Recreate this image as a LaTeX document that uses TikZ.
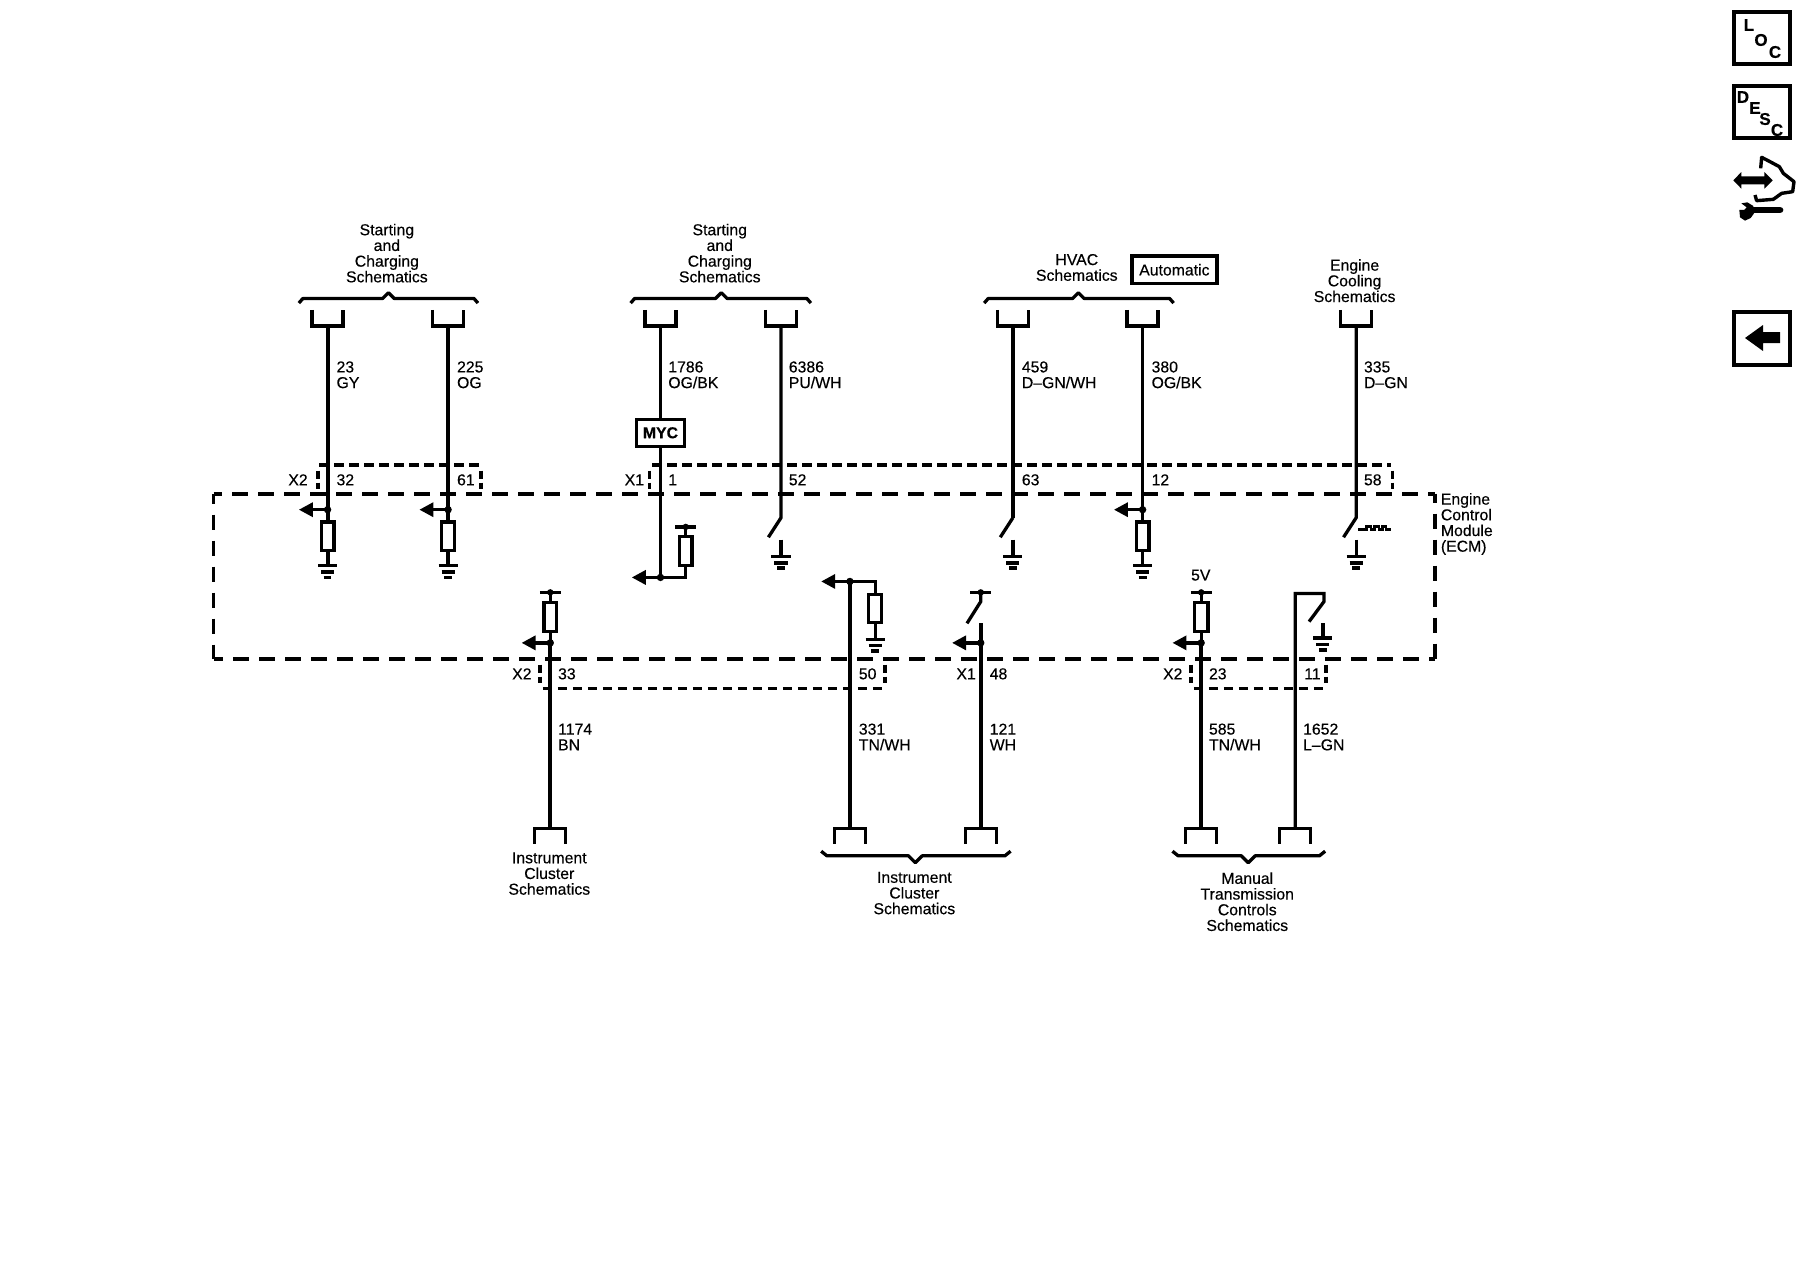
\documentclass[tikz,border=0pt]{standalone}
\usepackage{fontspec}
\setmainfont{Liberation Sans}[FakeBold=0.35]
\usetikzlibrary{arrows.meta}
\tikzset{
  x=1.14796pt,y=-1.14796pt,
  wire/.style={line width=4pt},
  thinw/.style={line width=3.3pt},
  ecmline/.style={line width=3.8pt,dash pattern=on 15.5pt off 10.5pt},
  connline/.style={line width=3.3pt,dash pattern=on 9.5pt off 5.5pt},
  sideline/.style={line width=3.3pt,dash pattern=on 8.5pt off 3.5pt},
  res/.style={draw,line width=3.3pt,minimum width=12.7pt,minimum height=28.5pt,inner sep=0pt,fill=white},
  lbl/.style={font=\fontsize{15.8}{15.7}\selectfont,inner sep=0pt,align=left,anchor=west},
  ctr/.style={font=\fontsize{15.8}{15.7}\selectfont,inner sep=0pt,align=center},
  tagbox/.style={draw,line width=3.3pt,inner sep=0pt,font=\fontsize{15.8}{15.7}\selectfont},
  icon/.style={font=\fontsize{17}{17}\selectfont\bfseries,inner sep=0pt},
}
\newcommand{\topconn}[2]{\coordinate (#1) at (#2,284);
  \draw[thinw] (#2-13.5,270) -- (#2-13.5,284) -- (#2+13.5,284) -- (#2+13.5,270);}
\newcommand{\botconn}[2]{\coordinate (#1) at (#2,722);
  \draw[thinw] (#2-13.5,735) -- (#2-13.5,722) -- (#2+13.5,722) -- (#2+13.5,735);}
\newcommand{\gnd}[3]{\coordinate (#1) at (#2,#3);
  \draw[thinw] (#2-8.3,#3+.8) -- (#2+8.3,#3+.8);
  \draw[thinw] (#2-5.7,#3+6.3) -- (#2+5.7,#3+6.3);
  \draw[line width=3.6pt] (#2-3.4,#3+11) -- (#2+3.4,#3+11);}
\newcommand{\jdot}[3]{\coordinate (#1) at (#2,#3); \fill (#1) circle (3.7pt);}
\newcommand{\taparrow}[3]{\coordinate (#1tip) at (#2,#3);
  \draw[thinw,-{Triangle[length=14pt,width=14pt]}] (#1) -- (#1tip);}
\newcommand{\topbar}[3]{\coordinate (#1) at (#2,#3);
  \draw[thinw] (#2-9,#3) -- (#2+9,#3); \fill (#1) circle (3.2pt);}
\newcommand{\topbrace}[3]{\draw[line width=3.3pt,line join=round] (#1,264) -- (#1+3.5,260) -- (#2-5,260) -- (#2,255) -- (#2+5,260) -- (#3-3.5,260) -- (#3,264);}
\newcommand{\botbrace}[3]{\draw[line width=3.3pt,line join=round] (#1,741.5) -- (#1+5,745.5) -- (#2-6,745.5) -- (#2,751.5) -- (#2+6,745.5) -- (#3-5,745.5) -- (#3,741.5);}
\begin{document}
\begin{tikzpicture}
\useasboundingbox (0pt,0pt) rectangle (1800pt,-1280pt);
% ECM box and connector outlines
\draw[ecmline,dash phase=7.5pt] (186,430) -- (1250,430);
\draw[ecmline,dash phase=5pt] (186,430) -- (186,574);
\draw[ecmline,dash phase=6pt] (1250,430) -- (1250,574);
\draw[ecmline,dash phase=10pt] (1250,574) -- (186,574);
\draw[connline] (278,405) -- (417,405);
\draw[sideline] (277,410) -- (277,426);
\draw[sideline] (419,410) -- (419,426);
\draw[connline] (568,405) -- (1212,405);
\draw[sideline] (566,410) -- (566,426);
\draw[sideline] (1213,410) -- (1213,426);
\draw[connline] (473,600) -- (769,600);
\draw[sideline] (470.5,579) -- (470.5,595);
\draw[sideline] (771,579) -- (771,595);
\draw[connline] (1040,600) -- (1153,600);
\draw[sideline] (1037.5,579) -- (1037.5,595);
\draw[sideline] (1155,579) -- (1155,595);

\begin{scope}[xshift=.4pt]
% Upper connectors
\topconn{c1}{285} \topconn{c2}{390} \topconn{c3}{575} \topconn{c4}{680}
\topconn{c5}{882} \topconn{c6}{995} \topconn{c7}{1181}
\topbrace{260}{338}{416} \topbrace{549}{628}{706} \topbrace{857}{939}{1022}

% Wire 23
\node[res] (r1) at (285,467) {};
\gnd{g1}{285}{492}
\draw[wire] (c1) -- (r1.north); \draw[wire] (r1.south) -- (g1);
\jdot{j1}{285}{444} \taparrow{j1}{260}{444}
% Wire 225
\node[res] (r2) at (390,467) {};
\gnd{g2}{390}{492}
\draw[thinw] (c2) -- (r2.north); \draw[thinw] (r2.south) -- (g2);
\jdot{j2}{390}{444} \taparrow{j2}{365}{444}
% Wire 1786
\node[tagbox,minimum width=48pt,minimum height=27pt] (myc) at (575,377) {\bfseries MYC};
\jdot{j3}{575}{503} \taparrow{j3}{550}{503}
\node[res] (r3) at (597,480) {};
\topbar{t3}{597}{459}
\draw[thinw] (c3) -- (myc.north); \draw[thinw] (myc.south) -- (j3);
\draw[thinw] (j3) -| (r3.south); \draw[thinw] (r3.north) -- (t3);
% Wire 6386
\coordinate (s4a) at (680,451); \coordinate (s4b) at (669,468);
\draw[thinw] (c4) -- (s4a) -- (s4b);
\gnd{g4}{680}{484} \coordinate (g4t) at (680,470); \draw[thinw] (g4t) -- (g4);
% Wire 459
\coordinate (s5a) at (882,451); \coordinate (s5b) at (871,468);
\draw[wire] (c5) -- (s5a); \draw[thinw] (s5a) -- (s5b);
\gnd{g5}{882}{484} \coordinate (g5t) at (882,470); \draw[thinw] (g5t) -- (g5);
% Wire 380
\node[res] (r6) at (995,467) {};
\gnd{g6}{995}{492}
\draw[thinw] (c6) -- (r6.north); \draw[thinw] (r6.south) -- (g6);
\jdot{j6}{995}{444} \taparrow{j6}{970}{444}
% Wire 335
\coordinate (s7a) at (1181,451); \coordinate (s7b) at (1170,468);
\draw[thinw] (c7) -- (s7a) -- (s7b);
\gnd{g7}{1181}{484} \coordinate (g7t) at (1181,470); \draw[thinw] (g7t) -- (g7);
\draw[line width=2.6pt] (1183,461) -- (1190,461) -- (1190,458.5) -- (1194,458.5) -- (1194,461) -- (1197,461) -- (1197,458.5) -- (1201,458.5) -- (1201,461) -- (1204,461) -- (1204,458.5) -- (1207,458.5) -- (1207,461) -- (1211,461);

% Lower connectors
\botconn{b1}{479} \botconn{b2}{740} \botconn{b3}{854} \botconn{b4}{1046} \botconn{b5}{1128}
\botbrace{715}{797}{880} \botbrace{1021}{1087}{1154}
% Wire 1174
\topbar{t8}{479}{516}
\node[res] (r8) at (479,537.5) {};
\jdot{j8}{479}{560} \taparrow{j8}{454}{560}
\draw[thinw] (t8) -- (r8.north); \draw[thinw] (r8.south) -- (j8); \draw[wire] (j8) -- (b1);
% Wire 331
\jdot{j9}{740}{506.5} \taparrow{j9}{715}{506.5}
\node[res] (r9) at (762,530) {};
\gnd{g9}{762}{556}
\draw[wire] (j9) -- (b2);
\draw[thinw] (j9) -| (r9.north); \draw[thinw] (r9.south) -- (g9);
% Wire 121
\topbar{t10}{854}{516}
\coordinate (s10a) at (854,524); \coordinate (s10b) at (842,543);
\coordinate (s10c) at (854,543);
\draw[thinw] (t10) -- (s10a) -- (s10b);
\jdot{j10}{854}{560} \taparrow{j10}{829}{560}
\draw[wire] (s10c) -- (b3);
% Wire 585
\topbar{t11}{1046}{516}
\node[res,minimum width=13.5pt] (r11) at (1046,537.5) {};
\jdot{j11}{1046}{560} \taparrow{j11}{1021}{560}
\draw[thinw] (t11) -- (r11.north); \draw[thinw] (r11.south) -- (j11); \draw[wire] (j11) -- (b4);
% Wire 1652
\coordinate (s12a) at (1128,517); \coordinate (s12b) at (1153,517);
\coordinate (s12c) at (1153,524); \coordinate (s12d) at (1140,541.5);
\draw[thinw] (b5) -- (s12a) -- (s12b) -- (s12c) -- (s12d);
\gnd{g12}{1152}{555} \coordinate (g12t) at (1152,543); \draw[thinw] (g12t) -- (g12);
\end{scope}

% Group titles
\node[ctr] (tA) at (337,220.5) {Starting\\and\\Charging\\Schematics};
\node[ctr] (tB) at (627,220.5) {Starting\\and\\Charging\\Schematics};
\node[ctr] (tC) at (938,233) {HVAC\\Schematics};
\node[tagbox,minimum width=85pt,minimum height=27.5pt] (auto) at (1023,235) {Automatic};
\node[ctr] (tD) at (1180,244.5) {Engine\\Cooling\\Schematics};
\node[ctr] (tE) at (478.5,761) {Instrument\\Cluster\\Schematics};
\node[ctr] (tF) at (796.5,778) {Instrument\\Cluster\\Schematics};
\node[ctr] (tG) at (1086.5,785.5) {Manual\\Transmission\\Controls\\Schematics};
\node[lbl] (ecm) at (1255,456.5) {Engine\\Control\\Module\\(ECM)};
\node[ctr] (v5) at (1046,501) {5V};

% Wire labels
\node[lbl] (w1) at (293,326.5) {23\\GY};
\node[lbl] (w2) at (398,326.5) {225\\OG};
\node[lbl] (w3) at (582,326.5) {1786\\OG/BK};
\node[lbl] (w4) at (687,326.5) {6386\\PU/WH};
\node[lbl] (w5) at (890,326.5) {459\\D–GN/WH};
\node[lbl] (w6) at (1003,326.5) {380\\OG/BK};
\node[lbl] (w7) at (1188,326.5) {335\\D–GN};
\node[lbl] (w8) at (486,642) {1174\\BN};
\node[lbl] (w9) at (748,642) {331\\TN/WH};
\node[lbl] (w10) at (862,642) {121\\WH};
\node[lbl] (w11) at (1053,642) {585\\TN/WH};
\node[lbl] (w12) at (1135,642) {1652\\L–GN};

% Pin labels
\node[lbl] (x2a) at (251,418) {X2};
\node[lbl] (p32) at (293,418) {32};
\node[lbl] (p61) at (398,418) {61};
\node[lbl] (x1a) at (544,418) {X1};
\node[lbl] (p1) at (582,418) {1};
\node[lbl] (p52) at (687,418) {52};
\node[lbl] (p63) at (890,418) {63};
\node[lbl] (p12) at (1003,418) {12};
\node[lbl] (p58) at (1188,418) {58};
\node[lbl] (x2b) at (446,587) {X2};
\node[lbl] (p33) at (486,587) {33};
\node[lbl] (p50) at (748,587) {50};
\node[lbl] (x1b) at (833,587) {X1};
\node[lbl] (p48) at (862,587) {48};
\node[lbl] (x2c) at (1013,587) {X2};
\node[lbl] (p23) at (1053,587) {23};
\node[lbl] (p11) at (1136,587) {11};

% Icons on the right (pixel coordinates)
\begin{scope}[x=1pt,y=-1pt]
\draw[line width=3.6pt] (1734,12) rectangle (1790,64);
\node[icon] (iL) at (1749,25) {L};
\node[icon] (iO) at (1761,40) {O};
\node[icon] (iC) at (1775,52) {C};
\draw[line width=3.6pt] (1734,86) rectangle (1790,138);
\node[icon] (iD) at (1743,97) {D};
\node[icon] (iE) at (1755,108) {E};
\node[icon] (iS) at (1765,119) {S};
\node[icon] (iC2) at (1777,130) {C};
\draw[line width=3.6pt] (1734,312) rectangle (1790,365);
\fill (1745,338) -- (1763,325) -- (1763,332) -- (1780,332) -- (1780,343) -- (1763,343) -- (1763,351) -- cycle;
\end{scope}
\begin{scope}[shift={(1720pt,-150pt)},x=.3333pt,y=-.3333pt]
\fill (40,91) -- (64,66) -- (64,79) -- (133,79) -- (133,66) -- (158,91) -- (133,116) -- (133,103) -- (64,103) -- (64,116) -- cycle;
\draw[line width=3.4pt,line join=round] (122,55) -- (125,22) -- (150,35) -- (178,50) -- (190,70) -- (222,95) -- (218,125) -- (185,130) -- (160,148) -- (110,152) -- (105,135);
\draw[line width=6.7pt,line cap=round] (90,180) -- (180,180);
\fill (64,160) -- (82,157) -- (100,168) -- (102,190) -- (92,204) -- (75,212) -- (60,202) -- (58,180) -- (72,180) -- (80,172) -- cycle;
\end{scope}
\end{tikzpicture}
\end{document}
